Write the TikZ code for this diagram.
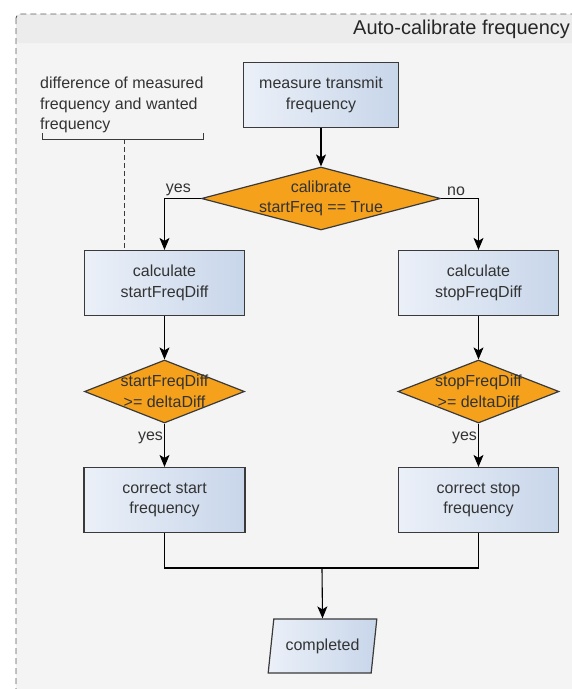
\documentclass[tikz,border=0pt]{standalone}
\usepackage{fontspec}
\setmainfont{Liberation Sans}
\usetikzlibrary{arrows.meta,shapes.geometric}
\definecolor{pagegray}{HTML}{F4F4F4}
\definecolor{headgray}{HTML}{ECECEC}
\definecolor{framegray}{HTML}{5A5A5A}
\definecolor{boxleft}{HTML}{EBF0F8}
\definecolor{boxright}{HTML}{C8D6EA}
\definecolor{boxline}{HTML}{3A3A3A}
\definecolor{decisionorange}{HTML}{F5A11C}
\definecolor{textgray}{HTML}{333333}
\tikzset{
  flowtext/.style={font=\fontsize{16}{20.5}\selectfont, text=textgray, align=center},
  process/.style={flowtext, draw=boxline, line width=1.2pt, left color=boxleft, right color=boxright, minimum width=#1, minimum height=65pt, inner sep=0pt},
  process/.default=160pt,
  decision/.style={diamond, draw=boxline, line width=1.2pt, fill=decisionorange, minimum width=#1, minimum height=63pt, inner sep=0pt},
  flowarrow/.style={draw=black, line width=1.1pt, -{Stealth[length=12pt,width=10pt,inset=3pt]}},
  flowline/.style={draw=black, line width=1.1pt},
}

\begin{document}
\begin{tikzpicture}[x=1pt,y=-1pt]
      \useasboundingbox (0,0) rectangle (572,689);
      \fill[pagegray, rounded corners=4pt] (16,14) rectangle (640,760);
      \fill[headgray, rounded corners=4pt] (16,14) rectangle (640,43);
      \draw[framegray, dash pattern=on 6pt off 4pt, line width=0.9pt, rounded corners=4pt] (16,14) rectangle (640,760);
      \node[anchor=west, font=\fontsize{20}{24}\selectfont, text=black!85, inner sep=0pt] (title) at (353,29) {Auto-calibrate frequency};

      \node[flowtext, anchor=north west, align=left, inner sep=0pt] (note) at (40,77) {difference of measured\\frequency and wanted\\frequency};
      \draw[boxline, line width=1pt] (42,133) -- (42,139) -- (203,139) -- (203,133);
      \coordinate (notefoot) at (124,139);

      \node[process=155pt] (measure) at (321,95) {measure transmit\\frequency};
      \node[decision=239pt, label={[flowtext]center:{calibrate\\startFreq == True}}] (calibrate) at (321,198.5) {};
      \node[process] (calcstart) at (164.5,283) {calculate\\startFreqDiff};
      \node[process] (calcstop) at (478.5,283) {calculate\\stopFreqDiff};
      \node[decision=160pt, label={[flowtext]center:{startFreqDiff\\>= deltaDiff}}] (checkstart) at (164.5,391.5) {};
      \node[decision=161pt, label={[flowtext]center:{stopFreqDiff\\>= deltaDiff}}] (checkstop) at (478.5,391.5) {};
      \node[process=161pt] (fixstart) at (164.5,500) {correct start\\frequency};
      \node[process] (fixstop) at (478.5,500) {correct stop\\frequency};
      \node[trapezium, trapezium left angle=74, trapezium right angle=106, trapezium stretches=true,
            draw=boxline, line width=1.2pt, left color=boxleft, right color=boxright,
            minimum width=109pt, minimum height=54pt, flowtext, inner sep=0pt] (done) at (322.5,646) {completed};
      \coordinate (merge) at (322,568);

      \draw[boxline, line width=1pt, dash pattern=on 5pt off 3pt] (notefoot) -- (notefoot |- calcstart.north);
      \draw[flowarrow] (measure) -- (calibrate);
      \draw[flowarrow] (calibrate.west) -| node[flowtext, pos=0.31, above=2pt, inner sep=0pt] (yesleft) {yes} (calcstart.north);
      \draw[flowarrow] (calibrate.east) -| node[flowtext, pos=0.2, above=2pt, inner sep=0pt] (noright) {no} (calcstop.north);
      \draw[flowarrow] (calcstart) -- (checkstart);
      \draw[flowarrow] (calcstop) -- (checkstop);
      \draw[flowarrow] (checkstart) -- node[flowtext, pos=0.32, left=1pt, inner sep=0pt] (yesstart) {yes} (fixstart);
      \draw[flowarrow] (checkstop) -- node[flowtext, pos=0.32, left=1pt, inner sep=0pt] (yesstop) {yes} (fixstop);
      \draw[flowline] (fixstart.south) |- (merge) -| (fixstop.south);
      \draw[flowarrow] (merge) -- (done.north);
  \end{tikzpicture}
\end{document}
